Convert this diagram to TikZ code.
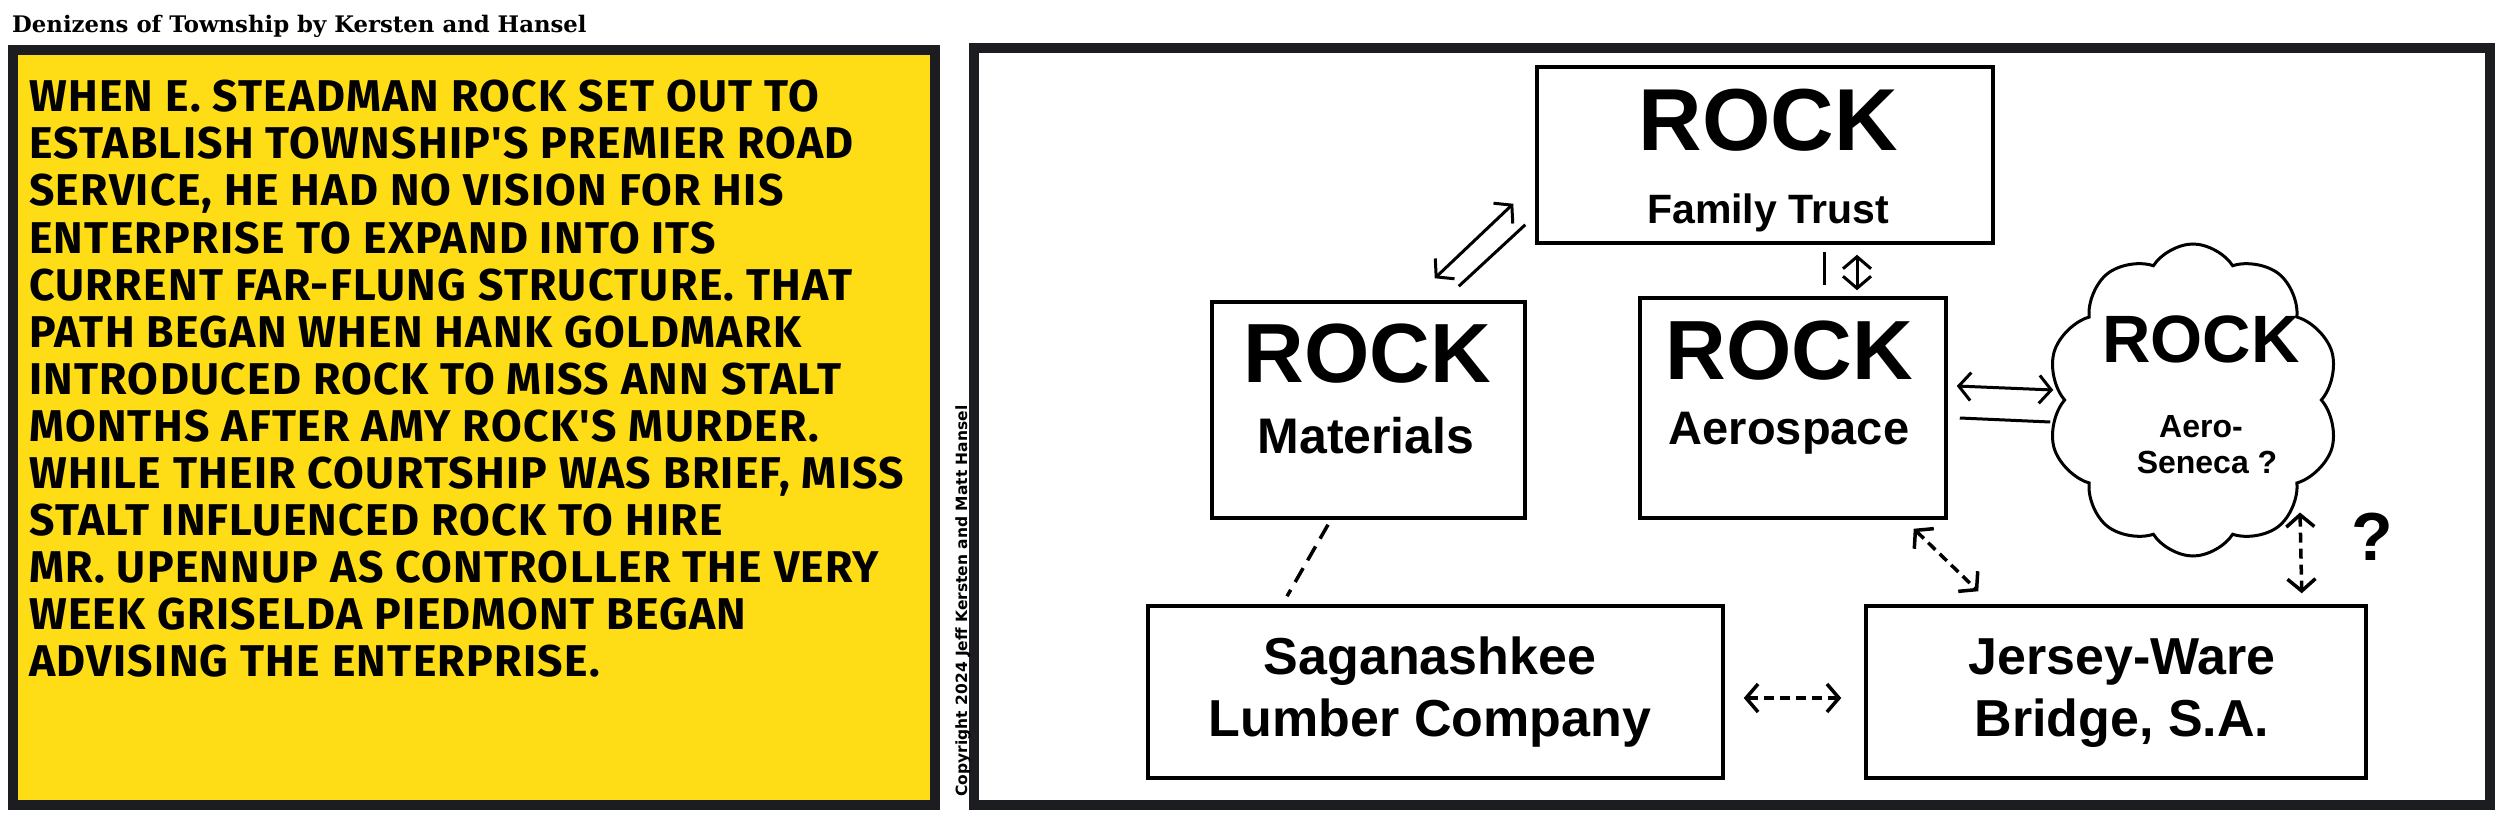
\documentclass[tikz,border=0pt]{standalone}
\usepackage{fontspec}
\setmainfont{Liberation Sans}
\newfontfamily\titlefont{DejaVu Serif}
\newfontfamily\comicfont[LetterSpace=3]{Fira Sans}
\newfontfamily\creditfont{DejaVu Sans}
\usetikzlibrary{shapes.symbols, arrows.meta, positioning}
\definecolor{panelink}{RGB}{28,29,33}
\definecolor{stripyellow}{RGB}{254,221,22}

\begin{document}
\begin{tikzpicture}[
    x=1pt, y=-1pt,
    box/.style = {rectangle, draw=black, line width=3.5pt, inner sep=0pt},
    puff/.style = {cloud, cloud puffs=10, cloud puff arc=115, draw=black, line width=3pt, inner sep=0pt},
    big/.style = {font=\bfseries\fontsize{84}{84}\selectfont, anchor=base, inner sep=0pt},
    label/.style = {font=\bfseries\fontsize{50}{50}\selectfont, anchor=base, inner sep=0pt},
    story/.style = {font=\comicfont\bfseries\fontsize{44.5}{45}\selectfont, anchor=base west, inner sep=0pt},
    arrow/.style = {line width=3pt, {Straight Barb[length=12pt,width=28pt]}-{Straight Barb[length=12pt,width=28pt]}},
    link/.style = {line width=3pt},
    dashlink/.style = {line width=3.5pt, dash pattern=on 10pt off 6pt}
]
    \useasboundingbox (0,0) rectangle (2500,821);
    \fill[white] (0,0) rectangle (2500,821);

    % Panels
    \draw[panelink, line width=10pt, fill=stripyellow] (13,50) rectangle (935,805);
    \draw[panelink, line width=10pt] (974,48) rectangle (2490,805);

    % Title and copyright
    \node[font=\titlefont\bfseries\fontsize{22.8}{23}\selectfont, anchor=base west, inner sep=0pt] (title) at (12,33) {Denizens of Township by Kersten and Hansel};
    \node[font=\creditfont\bfseries\fontsize{15.5}{16}\selectfont, rotate=90, inner sep=0pt] (copy) at (963,601) {Copyright 2024 Jeff Kersten and Matt Hansel};

    % Story
    \foreach \txt [count=\i from 0] in {WHEN E. STEADMAN ROCK SET OUT TO,
        ESTABLISH TOWNSHIP'S PREMIER ROAD,
        {SERVICE, HE HAD NO VISION FOR HIS},
        ENTERPRISE TO EXPAND INTO ITS,
        CURRENT FAR-FLUNG STRUCTURE. THAT,
        PATH BEGAN WHEN HANK GOLDMARK,
        INTRODUCED ROCK TO MISS ANN STALT,
        MONTHS AFTER AMY ROCK'S MURDER.,
        {WHILE THEIR COURTSHIP WAS BRIEF, MISS},
        STALT INFLUENCED ROCK TO HIRE,
        MR. UPENNUP AS CONTROLLER THE VERY,
        WEEK GRISELDA PIEDMONT BEGAN,
        ADVISING THE ENTERPRISE.}
        \node[story] (line\i) at (29,112+47*\i) {\txt};

    % Companies
    \node[box, minimum width=456pt, minimum height=176pt] (trust) at (1765,155) {};
    \node[big, font=\bfseries\fontsize{88}{88}\selectfont] (trustrock) at (1768,151) {ROCK};
    \node[label, font=\bfseries\fontsize{41}{41}\selectfont] (trustname) at (1768,223) {Family Trust};

    \node[box, minimum width=313pt, minimum height=216pt] (materials) at (1368.5,410) {};
    \node[big] (matrock) at (1367,382) {ROCK};
    \node[label] (matname) at (1366,453) {Materials};

    \node[box, minimum width=306pt, minimum height=220pt] (aerospace) at (1793,408) {};
    \node[big] (aerorock) at (1789,379) {ROCK};
    \node[label, font=\bfseries\fontsize{47}{47}\selectfont] (aeroname) at (1789,444) {Aerospace};

    \node[puff, minimum width=292pt, minimum height=312pt] (seneca) at (2193,400) {};
    \node[big, font=\bfseries\fontsize{67}{67}\selectfont] (senrock) at (2201,362) {ROCK};
    \node[label, font=\bfseries\fontsize{32}{32}\selectfont] (senname1) at (2201,437) {Aero-};
    \node[label, font=\bfseries\fontsize{32}{32}\selectfont] (senname2) at (2207,473) {Seneca ?};

    \node[box, minimum width=575pt, minimum height=172pt] (lumber) at (1435.5,692) {};
    \node[label, font=\bfseries\fontsize{52}{52}\selectfont] (lumname1) at (1430,674) {Saganashkee};
    \node[label, font=\bfseries\fontsize{52}{52}\selectfont] (lumname2) at (1430,736) {Lumber Company};

    \node[box, minimum width=500pt, minimum height=172pt] (bridge) at (2116,692) {};
    \node[label, font=\bfseries\fontsize{52}{52}\selectfont] (brname1) at (2122,674) {Jersey-Ware};
    \node[label, font=\bfseries\fontsize{52}{52}\selectfont] (brname2) at (2122,736) {Bridge, S.A.};

    \node[font=\bfseries\fontsize{68}{68}\selectfont, inner sep=0pt] (query) at (2372,537) {?};

    % Solid links
    \draw[arrow] ([shift={(-92,-22)}]materials.north east) -- ([shift={(-22,-41)}]trust.south west);
    \draw[link] ([shift={(-68,-14)}]materials.north east) -- ([shift={(-10,-20)}]trust.south west);
    \draw[link] ([shift={(59,7)}]trust.south) -- ([shift={(31,-11)}]aerospace.north);
    \draw[arrow] ([shift={(92,10)}]trust.south) -- ([shift={(64,-6)}]aerospace.north);
    \draw[arrow] ([shift={(9,-22)}]aerospace.east) -- ([shift={(-9.5,-10)}]seneca.west);
    \draw[link] ([shift={(12,10)}]aerospace.east) -- ([shift={(-12.5,22)}]seneca.west);

    % Dashed links
    \draw[arrow, dashlink] ([shift={(-34,9)}]aerospace.south east) -- ([shift={(114,-13)}]bridge.north west);
    \draw[arrow, dashlink] ([shift={(107,-45)}]seneca.south) -- ([shift={(-66,-11)}]bridge.north east);
    \draw[dashlink, dash pattern=on 16pt off 9pt] ([shift={(-40.5,5)}]materials.south) -- ([shift={(-148.5,-8)}]lumber.north);
    \draw[arrow, dashlink] ([shift={(19,6)}]lumber.east) -- ([shift={(-23,6)}]bridge.west);

\end{tikzpicture}
\end{document}
